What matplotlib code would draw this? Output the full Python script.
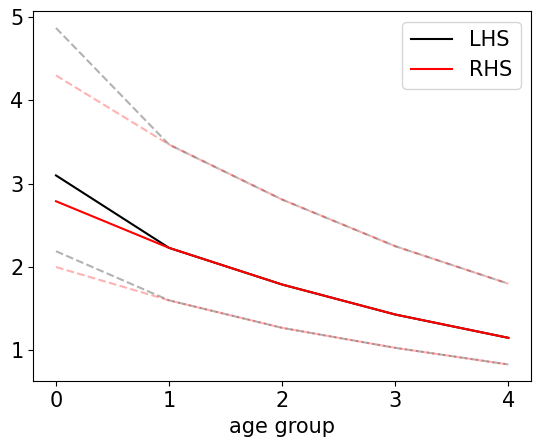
import matplotlib
matplotlib.use("Agg")
import matplotlib.pyplot as plt

age = [0, 1, 2, 3, 4]
lhs = [3.10, 2.23, 1.79, 1.43, 1.15]
rhs = [2.79, 2.23, 1.79, 1.43, 1.15]
lhs_hi = [4.87, 3.47, 2.81, 2.25, 1.80]
rhs_hi = [4.30, 3.47, 2.81, 2.25, 1.80]
lhs_lo = [2.19, 1.60, 1.27, 1.03, 0.83]
rhs_lo = [2.00, 1.60, 1.27, 1.03, 0.83]

plt.rcParams['font.size'] = 15
fig = plt.figure(figsize=(5.38, 4.46), dpi=100)
ax = fig.add_axes([0.062, 0.145, 0.925, 0.83])
ax.plot(age, lhs, color='black', label='LHS')
ax.plot(age, rhs, color='red', label='RHS')
ax.plot(age, lhs_hi, color='black', ls='--', alpha=0.3)
ax.plot(age, lhs_lo, color='black', ls='--', alpha=0.3)
ax.plot(age, rhs_hi, color='red', ls='--', alpha=0.3)
ax.plot(age, rhs_lo, color='red', ls='--', alpha=0.3)
ax.set_xlabel('age group')
ax.set_xticks(age)
ax.set_yticks([1, 2, 3, 4, 5])
ax.legend(loc='upper right')
fig.savefig('out.png')
